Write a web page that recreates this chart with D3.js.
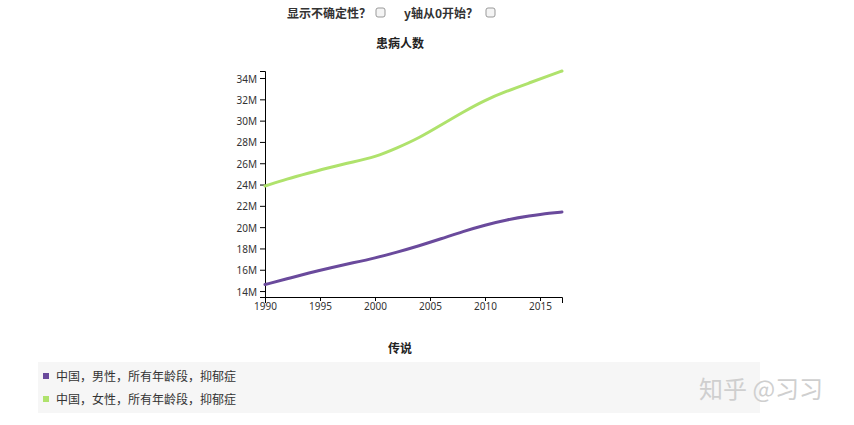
<!DOCTYPE html>
<html><head><meta charset="utf-8">
<script src="https://cdn.jsdelivr.net/npm/d3@7"></script>
<style>
body{margin:0;background:#fff;}
svg{display:block;font-family:"Noto Sans CJK SC","Noto Sans",sans-serif;}
</style></head>
<body><svg id="c" width="854" height="425"></svg>
<script>
const years = [1990,1992,1994,1996,1998,2000,2002,2004,2006,2008,2010,2012,2014,2016,2017];
const maleValues = [14.61,15.15,15.7,16.2,16.65,17.1,17.65,18.25,18.9,19.6,20.2,20.7,21.05,21.35,21.42];
const femaleValues = [23.86,24.52,25.08,25.64,26.11,26.58,27.43,28.37,29.59,30.81,31.93,32.78,33.53,34.28,34.66];
const seriesNames = ["中国，男性，所有年龄段，抑郁症","中国，女性，所有年龄段，抑郁症"];
const seriesColors = ["#6a4a9c","#afe26c"];
const xTicks = [1990,1995,2000,2005,2010,2015];
const yTicks = [14,16,18,20,22,24,26,28,30,32,34];

const svg = d3.select("#c");
const series = [maleValues, femaleValues];
const all = maleValues.concat(femaleValues);

const x = d3.scaleLinear().domain([1990,2017]).range([265,562]);
const y = d3.scaleLinear().domain([d3.min(all)*0.92, d3.max(all)]).range([297,71]);

// top controls
const ctrl = svg.append("g").attr("font-size",12).attr("font-weight","bold").attr("fill","#333");
ctrl.append("text").attr("x",287).attr("y",18).text("显示不确定性？");
ctrl.append("rect").attr("x",376).attr("y",8).attr("width",9).attr("height",9).attr("rx",2).attr("fill","#f4f4f4").attr("stroke","#999");
ctrl.append("text").attr("x",404).attr("y",18).text("y轴从0开始？");
ctrl.append("rect").attr("x",486).attr("y",8).attr("width",9).attr("height",9).attr("rx",2).attr("fill","#f4f4f4").attr("stroke","#999");

svg.append("text").attr("x",400).attr("y",48).attr("text-anchor","middle")
  .attr("font-size",12).attr("font-weight","bold").attr("fill","#222").text("患病人数");

// axes
const gx = svg.append("g").attr("transform","translate(0,297)")
  .call(d3.axisBottom(x).tickValues(xTicks).tickFormat(d3.format("d")).tickSize(4).tickSizeOuter(6));
const gy = svg.append("g").attr("transform","translate(265,0)")
  .call(d3.axisLeft(y).tickValues(yTicks).tickFormat(d=>d+"M").tickSize(5).tickSizeOuter(5));
[gx,gy].forEach(g=>{
  g.selectAll("text").attr("font-size",10).attr("fill","#333").attr("font-family","Noto Sans, sans-serif");
  g.selectAll("path,line").attr("stroke","#000");
});
gx.selectAll("text").attr("dy","0.6em");
gy.selectAll("text").attr("dy","0.4em");

// lines
const line = d3.line().x((d,i)=>x(years[i])).y(d=>y(d)).curve(d3.curveBasis);
series.forEach((s,i)=>{
  svg.append("path").datum(s).attr("d",line).attr("fill","none")
    .attr("stroke",seriesColors[i]).attr("stroke-width",3).attr("stroke-linecap","round");
});

// legend
svg.append("text").attr("x",400).attr("y",353).attr("text-anchor","middle")
  .attr("font-size",12).attr("font-weight","bold").attr("fill","#222").text("传说");
svg.append("rect").attr("x",38).attr("y",362).attr("width",722).attr("height",51).attr("fill","#f6f6f6");
seriesNames.forEach((n,i)=>{
  const yy = 377 + i*23;
  svg.append("rect").attr("x",43).attr("y",yy-4).attr("width",6).attr("height",6).attr("fill",seriesColors[i]);
  svg.append("text").attr("x",56).attr("y",yy+4).attr("font-size",12).attr("fill","#333").text(n);
});

// watermark
svg.append("text").attr("x",699).attr("y",398).attr("font-size",24).attr("fill","#cfcfcf").text("知乎 @习习");
</script></body></html>
